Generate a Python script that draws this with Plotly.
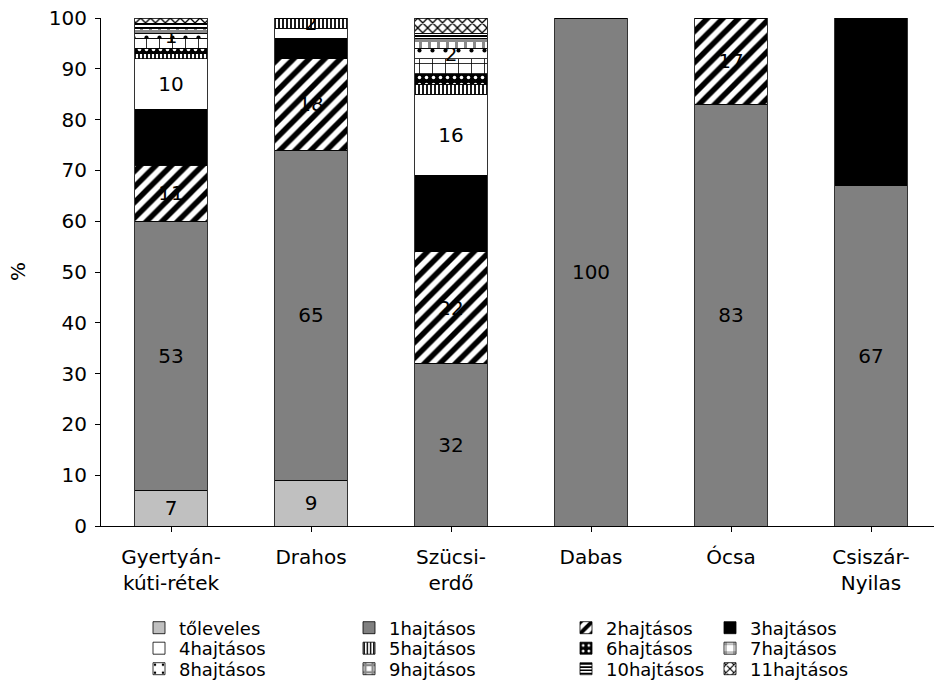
import plotly.graph_objects as go

# Sites (x categories)
sites = ["Gyertyán-<br>kúti-rétek", "Drahos", "Szücsi-<br>erdő", "Dabas", "Ócsa", "Csiszár-<br>Nyilas"]

# Share of individuals per shoot-number class (%), one list per class
toleveles = [7, 9, 0, 0, 0, 0]
h1 = [53, 65, 32, 100, 83, 67]
h2 = [11, 18, 22, 0, 17, 0]
h3 = [11, 4, 15, 0, 0, 33]
h4 = [10, 2, 16, 0, 0, 0]
h5 = [1, 2, 2, 0, 0, 0]
h6 = [1, 0, 2, 0, 0, 0]
h7 = [2, 0, 3, 0, 0, 0]
h8 = [1, 0, 2, 0, 0, 0]
h9 = [1, 0, 2, 0, 0, 0]
h10 = [1, 0, 1, 0, 0, 0]
h11 = [1, 0, 3, 0, 0, 0]

# Which value labels are printed on each class (per site)
show_labels = {
    "tőleveles": [1, 1, 0, 0, 0, 0],
    "1hajtásos": [1, 1, 1, 1, 1, 1],
    "2hajtásos": [1, 1, 1, 0, 1, 0],
    "3hajtásos": [1, 1, 1, 0, 0, 1],
    "4hajtásos": [1, 0, 1, 0, 0, 0],
    "5hajtásos": [0, 1, 0, 0, 0, 0],
    "8hajtásos": [1, 0, 1, 0, 0, 0],
}

FONT = "DejaVu Sans, Arial, sans-serif"
FS = 20
LEG_FS = 18

def pat(shape, fg, bg, size, solidity):
    return dict(color=bg, pattern=dict(shape=shape, fgcolor=fg, bgcolor=bg, size=size,
                                       solidity=solidity, fillmode="replace"))

series = [
    ("tőleveles", toleveles, dict(color="#c0c0c0")),
    ("1hajtásos", h1, dict(color="#808080")),
    ("2hajtásos", h2, pat("/", "black", "white", 11, 0.5)),
    ("3hajtásos", h3, dict(color="black")),
    ("4hajtásos", h4, dict(color="white")),
    ("5hajtásos", h5, pat("|", "black", "white", 4, 0.45)),
    ("6hajtásos", h6, pat(".", "white", "black", 7, 0.2)),
    ("7hajtásos", h7, pat("+", "black", "white", 13, 0.12)),
    ("8hajtásos", h8, pat(".", "black", "white", 13, 0.08)),
    ("9hajtásos", h9, pat("+", "#8a8a8a", "white", 9, 0.55)),
    ("10hajtásos", h10, pat("-", "black", "white", 4, 0.5)),
    ("11hajtásos", h11, pat("x", "black", "white", 7, 0.35)),
]

# Legend grid: 4 columns x 3 rows (pixel positions of text start / row centre)
col_text_px = [177, 387, 604, 748]
row_mid_px = [628, 648.5, 669]
W, H = 934, 681

fig = go.Figure()
legend_layout = {}
for i, (name, vals, marker) in enumerate(series):
    mask = show_labels.get(name, [0] * len(vals))
    text = [str(v) if (m and v) else "" for v, m in zip(vals, mask)]
    leg = "legend" if i == 0 else f"legend{i + 1}"
    fig.add_trace(go.Bar(
        name=name,
        x=list(range(len(sites))),
        y=vals,
        text=text,
        textposition="inside",
        insidetextanchor="middle",
        constraintext="none",
        textangle=0,
        textfont=dict(family=FONT, size=FS, color="black"),
        marker=dict(line=dict(color="black", width=0.8), **marker),
        legend=leg,
        showlegend=True,
        hoverinfo="skip",
    ))
    col, row = i % 4, i // 4
    legend_layout[leg] = dict(
        font=dict(family=FONT, size=LEG_FS, color="black"),
        orientation="v",
        xref="container",
        yref="container",
        x=(col_text_px[col] - 38) / W,
        y=1 - row_mid_px[row] / H,
        xanchor="left",
        yanchor="middle",
        itemwidth=30,
        borderwidth=0,
        bgcolor="rgba(0,0,0,0)",
    )

fig.update_layout(
    width=W,
    height=H,
    showlegend=True,
    margin=dict(l=101, r=0, t=18, b=155, autoexpand=False),
    paper_bgcolor="white",
    plot_bgcolor="white",
    barmode="stack",
    bargap=0.48,
    font=dict(family=FONT, size=FS, color="black"),
    xaxis=dict(
        tickmode="array",
        tickvals=list(range(len(sites))),
        ticktext=sites,
        range=[-0.5, 5.45],
        showline=True,
        linecolor="black",
        linewidth=1,
        ticks="outside",
        tickson="boundaries",
        ticklen=5,
        tickcolor="black",
        ticklabelstandoff=8,
        tickfont=dict(family=FONT, size=FS, color="black"),
        showgrid=False,
        zeroline=False,
    ),
    yaxis=dict(
        range=[0, 100],
        tickmode="linear",
        tick0=0,
        dtick=10,
        showline=True,
        linecolor="black",
        linewidth=1,
        ticks="outside",
        ticklen=5,
        tickcolor="black",
        ticklabelstandoff=4,
        tickfont=dict(family=FONT, size=FS, color="black"),
        showgrid=False,
        zeroline=False,
    ),
    annotations=[dict(
        text="%",
        xref="paper", yref="paper",
        x=-83 / 833, y=0.5,
        xanchor="center", yanchor="middle",
        textangle=-90,
        showarrow=False,
        font=dict(family=FONT, size=FS, color="black"),
    )],
    **legend_layout,
)

fig.write_html("out.html")
